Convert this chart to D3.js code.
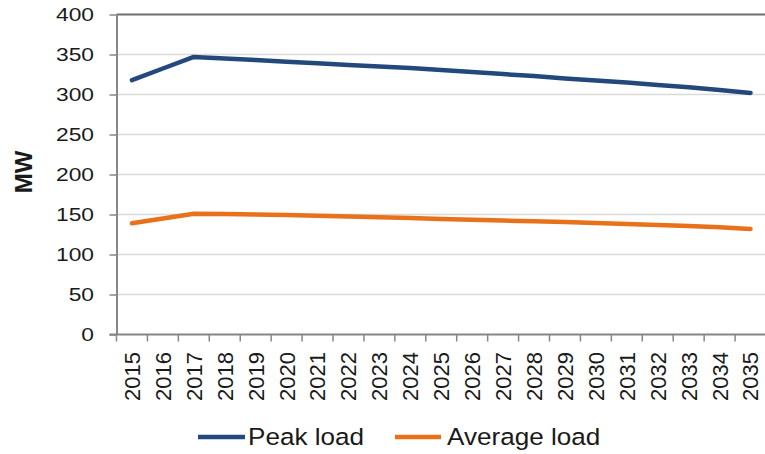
<!DOCTYPE html>
<html><head><meta charset="utf-8">
<script src="https://cdn.jsdelivr.net/npm/d3@7"></script>
<style>body{margin:0;background:#fff}svg{display:block;font-family:"Liberation Sans",Arial,sans-serif}</style>
</head><body><svg id="c" width="765" height="454"></svg>
<script>
const years = ["2015","2016","2017","2018","2019","2020","2021","2022","2023","2024","2025","2026","2027","2028","2029","2030","2031","2032","2033","2034","2035"];
const peakLoad = [318,332.5,347,345,343,341,339,337,335,333,330.5,328,325.5,323,320,317.5,315,312,309,305.5,302];
const averageLoad = [139,145,151,150.5,150,149.5,148.5,147.5,146.5,145.5,144.5,143.5,142.5,141.5,140.5,139.5,138,137,135.5,134,132];
const yTicks = [0,50,100,150,200,250,300,350,400];
const seriesNames = ["Peak load","Average load"];
const colors = ["#23497c","#e8711a"];

const svg = d3.select("#c");
const L = 116.5, R = 766, T = 14.5, B = 334.5;
const x = d3.scaleBand().domain(years).range([L, R]);
const y = d3.scaleLinear().domain([0, 400]).range([B, T]);
const cx = d => x(d) + x.bandwidth()/2;

// gridlines
svg.append("g").selectAll("line").data(yTicks.filter(v => v > 0 && v < 400)).join("line")
  .attr("x1", L).attr("x2", 765).attr("y1", d => y(d)).attr("y2", d => y(d))
  .attr("stroke", "#d9d9d9").attr("stroke-width", 1.5);
// top border
svg.append("line").attr("x1", L).attr("x2", 765).attr("y1", y(400)).attr("y2", y(400))
  .attr("stroke", "#707070").attr("stroke-width", 2);

// y axis
const yAxis = svg.append("g").attr("transform", `translate(${L},0)`)
  .call(d3.axisLeft(y).tickValues(yTicks).tickSize(7).tickFormat("").tickSizeOuter(0));
yAxis.select(".domain").attr("stroke", "#868686").attr("stroke-width", 2);
yAxis.selectAll(".tick line").attr("stroke", "#868686").attr("stroke-width", 1.5);
svg.append("g").selectAll("text").data(yTicks).join("text")
  .attr("transform", d => `translate(94,${y(d)}) scale(1.2,1)`)
  .attr("text-anchor", "end").attr("dy", "0.36em")
  .attr("font-size", 19).attr("fill", "#1a1a1a").text(d => d);

// x axis
const xg = svg.append("g");
xg.append("line").attr("x1", L - 7).attr("x2", 765).attr("y1", B).attr("y2", B)
  .attr("stroke", "#868686").attr("stroke-width", 2);
const edges = years.map(d => x(d));
xg.selectAll("line.tk").data(edges).join("line").attr("class","tk")
  .attr("x1", d => d).attr("x2", d => d).attr("y1", B).attr("y2", B + 7)
  .attr("stroke", "#868686").attr("stroke-width", 1.5);
xg.selectAll("text").data(years).join("text")
  .attr("transform", d => `translate(${cx(d)},${352}) rotate(-90)`)
  .attr("text-anchor", "end").attr("dy", "0.36em")
  .attr("font-size", 22).attr("fill", "#1a1a1a").text(d => d);

// y label
svg.append("text").attr("transform", "translate(23,172) rotate(-90)")
  .attr("text-anchor", "middle").attr("dy", "0.36em")
  .attr("font-size", 24).attr("font-weight", "bold").attr("fill", "#1a1a1a").text("MW");

// lines
const line = d3.line().x((d, i) => cx(years[i])).y(d => y(d));
[peakLoad, averageLoad].forEach((s, k) => {
  svg.append("path").datum(s).attr("d", line).attr("fill", "none")
    .attr("stroke", colors[k]).attr("stroke-width", 4.5)
    .attr("stroke-linejoin", "round").attr("stroke-linecap", "round");
});

// legend
const leg = [{x1:198, x2:245, tx:248}, {x1:395, x2:441, tx:447}];
seriesNames.forEach((n, k) => {
  svg.append("line").attr("x1", leg[k].x1).attr("x2", leg[k].x2).attr("y1", 437).attr("y2", 437)
    .attr("stroke", colors[k]).attr("stroke-width", 4.5);
  svg.append("text").attr("transform", `translate(${leg[k].tx},445) scale(1.11,1)`)
    .attr("font-size", 23.5).attr("fill", "#1a1a1a").text(n);
});
</script></body></html>
